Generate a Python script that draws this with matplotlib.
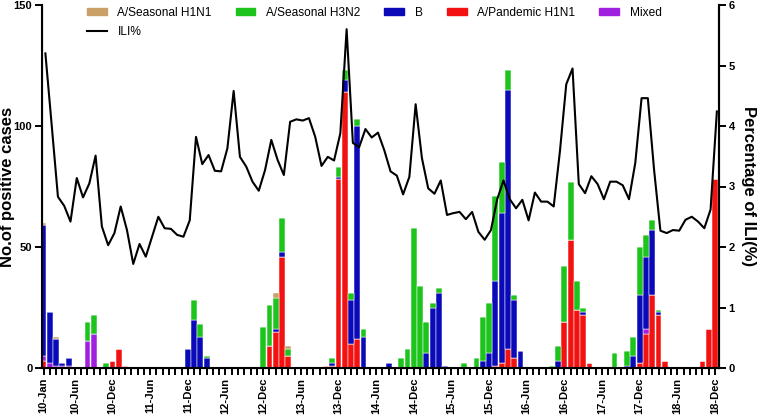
import matplotlib.pyplot as plt
from matplotlib.patches import Patch
from matplotlib.lines import Line2D
import numpy as np

plt.rcParams['font.family'] = ['Liberation Sans', 'DejaVu Sans']

# -------------------------
# Data (monthly, Jan 2010 - Dec 2018)
# -------------------------
n_months = 108

# sparse monthly counts: {month index: count}
pdm_h1n1 = {0: 3, 11: 3, 12: 8, 13: 1, 36: 9, 37: 15, 38: 46, 39: 5, 45: 1, 46: 1,
            47: 78, 48: 114, 49: 10, 50: 12, 72: 1, 73: 2, 74: 8, 75: 4,
            83: 19, 84: 53, 85: 24, 86: 22, 87: 2, 95: 2, 96: 14, 97: 30, 98: 22,
            99: 3, 105: 3, 106: 16, 107: 78}
mixed = {0: 2, 1: 2, 2: 1, 3: 1, 4: 1, 7: 11, 8: 14, 96: 2}
flu_b = {0: 54, 1: 21, 2: 11, 3: 1, 4: 3, 23: 8, 24: 20, 25: 13, 26: 4,
         37: 1, 38: 2, 46: 1, 47: 1, 48: 5, 49: 18, 50: 88, 51: 13, 55: 2,
         61: 6, 62: 25, 63: 31, 64: 1, 70: 3, 71: 6, 72: 35, 73: 62, 74: 107,
         75: 24, 76: 7, 82: 3, 86: 1, 93: 1, 94: 5, 95: 28, 96: 30, 97: 27, 98: 1}
h3n2 = {7: 8, 8: 8, 10: 2, 24: 8, 25: 5, 26: 1, 35: 17, 36: 17, 37: 13, 38: 14,
        39: 3, 46: 2, 47: 4, 48: 4, 49: 3, 50: 3, 51: 3, 57: 4, 58: 8, 59: 58,
        60: 34, 61: 13, 62: 2, 63: 2, 67: 2, 69: 4, 70: 18, 71: 21, 72: 35,
        73: 21, 74: 8, 75: 2, 81: 1, 82: 6, 83: 23, 84: 24, 85: 12, 86: 2,
        91: 6, 93: 6, 94: 8, 95: 20, 96: 9, 97: 4, 98: 1}
seasonal_h1n1 = {0: 1, 2: 1, 37: 2, 39: 1}

ili = [5.20, 4.02, 2.83, 2.68, 2.42, 3.14, 2.82, 3.05, 3.51, 2.34, 2.03, 2.23,
       2.67, 2.28, 1.72, 2.05, 1.84, 2.17, 2.50, 2.31, 2.30, 2.20, 2.17, 2.44,
       3.82, 3.37, 3.52, 3.26, 3.25, 3.63, 4.58, 3.49, 3.33, 3.08, 2.93, 3.27,
       3.77, 3.44, 3.19, 4.07, 4.11, 4.09, 4.13, 3.82, 3.34, 3.49, 3.43, 3.88,
       5.60, 3.72, 3.65, 3.95, 3.81, 3.89, 3.60, 3.25, 3.18, 2.87, 3.16, 4.36,
       3.47, 2.97, 2.88, 3.10, 2.53, 2.56, 2.58, 2.46, 2.58, 2.25, 2.12, 2.28,
       2.79, 3.10, 2.79, 2.64, 2.78, 2.44, 2.90, 2.75, 2.75, 2.67, 3.59, 4.69,
       4.95, 3.04, 2.89, 3.17, 3.04, 2.79, 3.08, 3.08, 3.02, 2.79, 3.39, 4.46,
       4.46, 3.27, 2.27, 2.23, 2.28, 2.27, 2.45, 2.50, 2.42, 2.31, 2.62, 4.24]

label_months = [0, 5] + list(range(11, 108, 6))
label_text = ['10-Jan', '10-Jun', '10-Dec', '11-Jun', '11-Dec', '12-Jun', '12-Dec',
              '13-Jun', '13-Dec', '14-Jun', '14-Dec', '15-Jun', '15-Dec', '16-Jun',
              '16-Dec', '17-Jun', '17-Dec', '18-Jun', '18-Dec']

# stacking order bottom -> top
series = [
    ("A/Pandemic H1N1", pdm_h1n1, "#F21212"),
    ("Mixed", mixed, "#A020E0"),
    ("B", flu_b, "#0A0AB8"),
    ("A/Seasonal H3N2", h3n2, "#1CC41C"),
    ("A/Seasonal H1N1", seasonal_h1n1, "#C9A066"),
]

# -------------------------
# Plot
# -------------------------
fig = plt.figure(figsize=(7.6, 4.16), dpi=100)
ax = fig.add_axes([42 / 760, 48 / 416, 677 / 760, 363 / 416])

x = np.arange(n_months)
bottom = np.zeros(n_months)
colors = {}
for name, d, col in series:
    vals = np.zeros(n_months)
    for k, v in d.items():
        vals[k] = v
    ax.bar(x, vals, width=0.93, bottom=bottom, color=col,
           edgecolor='white', linewidth=0.35, zorder=2)
    bottom += vals
    colors[name] = col

ax.set_xlim(-0.24, 107.64)
ax.set_ylim(0, 150)
ax.set_yticks([0, 50, 100, 150])
ax.set_xticks(x)
ax.set_xticklabels([label_text[label_months.index(i)] if i in label_months else ''
                    for i in x], rotation=90, fontsize=8, fontweight='bold')
plt.setp(ax.get_yticklabels(), fontsize=8, fontweight='bold')
ax.tick_params(axis='both', width=1.4, length=5, pad=2)
ax.set_ylabel("No.of positive cases", fontsize=12, fontweight='bold', va='center')
ax.yaxis.set_label_coords(-0.0515, 0.5)
for s in ['left', 'bottom', 'right']:
    ax.spines[s].set_linewidth(1.5)
ax.spines['top'].set_visible(False)

ax2 = ax.twinx()
ax2.plot(x + 0.3, ili, color='black', linewidth=1.5)
ax2.set_ylim(0, 6)
ax2.set_yticks(range(7))
plt.setp(ax2.get_yticklabels(), fontsize=8, fontweight='bold')
ax2.tick_params(axis='y', width=1.4, length=5, pad=2)
ax2.set_ylabel("Percentage of ILI(%)", fontsize=12, fontweight='bold',
               rotation=270, va='center')
ax2.yaxis.set_label_coords(1.043, 0.5)
ax2.spines['top'].set_visible(False)
ax2.spines['right'].set_linewidth(1.5)

handles = [Patch(color=colors["A/Seasonal H1N1"], label="A/Seasonal H1N1"),
           Line2D([], [], color='black', linewidth=1.5, label="ILI%"),
           Patch(color=colors["A/Seasonal H3N2"], label="A/Seasonal H3N2"),
           Patch(color=colors["B"], label="B"),
           Patch(color=colors["A/Pandemic H1N1"], label="A/Pandemic H1N1"),
           Patch(color=colors["Mixed"], label="Mixed")]
ax2.legend(handles=handles, ncol=5, loc='upper left',
           bbox_to_anchor=((87 - 42) / 677, 0.995), frameon=False,
           fontsize=8.6, handlelength=1.65, handleheight=0.5,
           handletextpad=0.9, columnspacing=2.0, labelspacing=0.6,
           borderpad=0, borderaxespad=0)

plt.savefig("out.png", dpi=100)
